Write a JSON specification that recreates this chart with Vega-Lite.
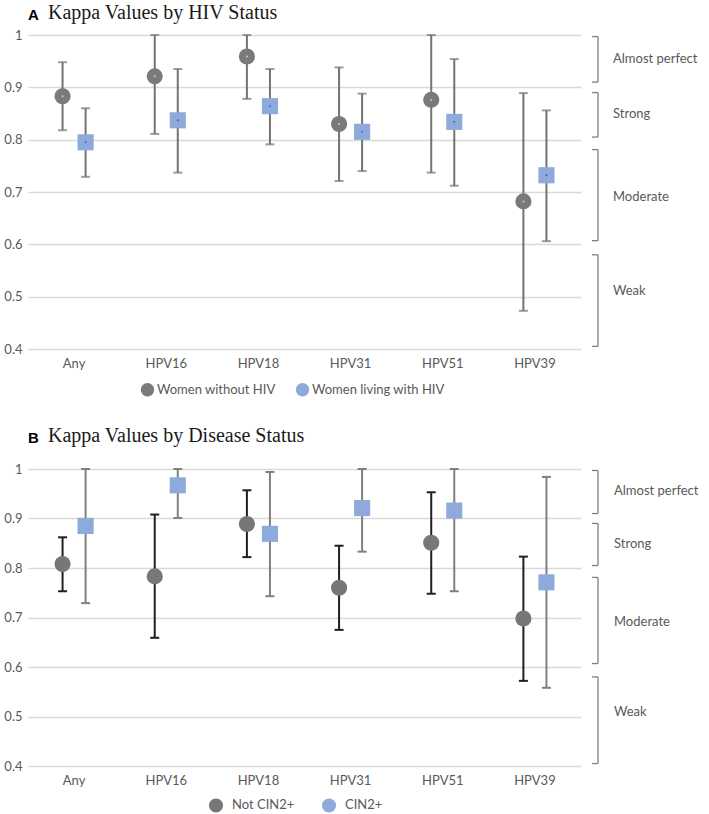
{
  "$schema": "https://vega.github.io/schema/vega-lite/v6.json",
  "background": "white",
  "padding": {"left": 3, "top": 3, "right": 0, "bottom": 0},
  "config": {
    "view": {"stroke": null},
    "font": "Lato",
    "axis": {"labelFont": "Lato", "labelColor": "#595959", "labelFontSize": 13, "domain": false, "ticks": false, "title": null},
    "legend": {"labelFont": "Lato", "labelColor": "#595959", "labelFontSize": 13, "title": null}
  },
  "resolve": {"scale": {"color": "independent", "shape": "independent", "xOffset": "independent"}, "legend": {"color": "independent", "shape": "independent"}},
  "datasets": {
    "a": [
      {"gene": "Any", "group": "Women without HIV", "k": 0.883, "lo": 0.818, "hi": 0.948},
      {"gene": "Any", "group": "Women living with HIV", "k": 0.795, "lo": 0.729, "hi": 0.860},
      {"gene": "HPV16", "group": "Women without HIV", "k": 0.921, "lo": 0.811, "hi": 1.0},
      {"gene": "HPV16", "group": "Women living with HIV", "k": 0.837, "lo": 0.737, "hi": 0.935},
      {"gene": "HPV18", "group": "Women without HIV", "k": 0.959, "lo": 0.878, "hi": 1.0},
      {"gene": "HPV18", "group": "Women living with HIV", "k": 0.864, "lo": 0.791, "hi": 0.935},
      {"gene": "HPV31", "group": "Women without HIV", "k": 0.830, "lo": 0.721, "hi": 0.938},
      {"gene": "HPV31", "group": "Women living with HIV", "k": 0.815, "lo": 0.740, "hi": 0.888},
      {"gene": "HPV51", "group": "Women without HIV", "k": 0.876, "lo": 0.737, "hi": 1.0},
      {"gene": "HPV51", "group": "Women living with HIV", "k": 0.834, "lo": 0.712, "hi": 0.954},
      {"gene": "HPV39", "group": "Women without HIV", "k": 0.682, "lo": 0.473, "hi": 0.889},
      {"gene": "HPV39", "group": "Women living with HIV", "k": 0.732, "lo": 0.606, "hi": 0.856}
    ],
    "b": [
      {"gene": "Any", "group": "Not CIN2+", "k": 0.808, "lo": 0.753, "hi": 0.862},
      {"gene": "Any", "group": "CIN2+", "k": 0.885, "lo": 0.729, "hi": 1.0},
      {"gene": "HPV16", "group": "Not CIN2+", "k": 0.783, "lo": 0.659, "hi": 0.908},
      {"gene": "HPV16", "group": "CIN2+", "k": 0.967, "lo": 0.901, "hi": 1.0},
      {"gene": "HPV18", "group": "Not CIN2+", "k": 0.889, "lo": 0.822, "hi": 0.957},
      {"gene": "HPV18", "group": "CIN2+", "k": 0.869, "lo": 0.743, "hi": 0.994},
      {"gene": "HPV31", "group": "Not CIN2+", "k": 0.760, "lo": 0.675, "hi": 0.845},
      {"gene": "HPV31", "group": "CIN2+", "k": 0.921, "lo": 0.833, "hi": 1.0},
      {"gene": "HPV51", "group": "Not CIN2+", "k": 0.851, "lo": 0.748, "hi": 0.953},
      {"gene": "HPV51", "group": "CIN2+", "k": 0.916, "lo": 0.753, "hi": 1.0},
      {"gene": "HPV39", "group": "Not CIN2+", "k": 0.698, "lo": 0.572, "hi": 0.823},
      {"gene": "HPV39", "group": "CIN2+", "k": 0.771, "lo": 0.558, "hi": 0.984}
    ],
    "zones": [
      {"zone": "Almost perfect", "lo": 0.91, "hi": 0.997, "mid": 0.955},
      {"zone": "Strong", "lo": 0.805, "hi": 0.89, "mid": 0.849},
      {"zone": "Moderate", "lo": 0.607, "hi": 0.781, "mid": 0.69},
      {"zone": "Weak", "lo": 0.405, "hi": 0.58, "mid": 0.51}
    ]
  },
  "vconcat": [
    {
      "hconcat": [
        {
          "width": 553,
          "height": 314,
          "data": {"name": "a"},
          "title": {
            "text": "A",
            "subtitle": "\u200b\u2003Kappa Values by HIV Status",
            "anchor": "start",
            "frame": "group",
            "font": "Liberation Sans",
            "fontWeight": "bold",
            "fontSize": 15,
            "color": "#000000",
            "subtitleFont": "Liberation Serif",
            "subtitleFontSize": 20,
            "subtitleColor": "#1a1a1a",
            "subtitlePadding": -20,
            "offset": 1
          },
          "encoding": {
            "x": {"field": "gene", "type": "nominal", "sort": ["Any", "HPV16", "HPV18", "HPV31", "HPV51", "HPV39"], "scale": {"paddingInner": 0, "paddingOuter": 0}, "axis": {"labelAngle": 0, "labelPadding": 8, "grid": false}},
            "xOffset": {"field": "group", "type": "nominal", "sort": ["Women without HIV", "Women living with HIV"], "scale": {"paddingInner": 0, "paddingOuter": 1.5}}
          },
          "layer": [
            {
              "mark": {"type": "rule", "color": "#737373", "strokeWidth": 2},
              "encoding": {
                "y": {"field": "lo", "type": "quantitative", "scale": {"domain": [0.4, 1], "nice": false}, "axis": {"values": [0.4, 0.5, 0.6, 0.7, 0.8, 0.9, 1], "format": "~g", "gridColor": "#d9d9d9", "gridWidth": 1.5, "labelPadding": 6}},
                "y2": {"field": "hi"}
              }
            },
            {
              "mark": {"type": "tick", "color": "#737373", "thickness": 2, "size": 9, "orient": "horizontal"},
              "encoding": {"y": {"field": "lo", "type": "quantitative"}}
            },
            {
              "mark": {"type": "tick", "color": "#737373", "thickness": 2, "size": 9, "orient": "horizontal"},
              "encoding": {"y": {"field": "hi", "type": "quantitative"}}
            },
            {
              "mark": {"type": "point", "filled": true, "opacity": 1, "size": 260},
              "encoding": {
                "y": {"field": "k", "type": "quantitative"},
                "color": {"field": "group", "type": "nominal", "sort": ["Women without HIV", "Women living with HIV"], "scale": {"range": ["#7a7a7a", "#8eaadb"]}, "legend": {"orient": "none", "legendX": 112, "legendY": 347, "direction": "horizontal", "columns": 2, "columnPadding": 19, "labelOffset": 2, "symbolSize": 180, "symbolOpacity": 1}},
                "shape": {"field": "group", "type": "nominal", "sort": ["Women without HIV", "Women living with HIV"], "scale": {"range": ["circle", "square"]}}
              }
            },
            {
              "mark": {"type": "point", "filled": true, "opacity": 1, "size": 4},
              "encoding": {
                "y": {"field": "k", "type": "quantitative"},
                "color": {"condition": {"test": "datum.group === 'Women without HIV'", "value": "#c8c8c8"}, "value": "#3b64c0"}
              }
            }
          ]
        },
        {
          "width": 124,
          "height": 314,
          "data": {"name": "zones"},
          "encoding": {
            "y": {"field": "lo", "type": "quantitative", "scale": {"domain": [0.4, 1], "nice": false}, "axis": null}
          },
          "layer": [
            {
              "mark": {"type": "rule", "color": "#808080", "strokeWidth": 1.3},
              "encoding": {
                "x": {"datum": 17, "type": "quantitative", "scale": {"domain": [0, 124], "nice": false, "zero": false}, "axis": null},
                "y2": {"field": "hi"}
              }
            },
            {
              "mark": {"type": "rule", "color": "#808080", "strokeWidth": 1.3},
              "encoding": {"x": {"datum": 11, "type": "quantitative"}, "x2": {"datum": 17}}
            },
            {
              "mark": {"type": "rule", "color": "#808080", "strokeWidth": 1.3},
              "encoding": {"x": {"datum": 11, "type": "quantitative"}, "x2": {"datum": 17}, "y": {"field": "hi", "type": "quantitative"}}
            },
            {
              "mark": {"type": "text", "align": "left", "baseline": "middle", "font": "Lato", "fontSize": 13, "color": "#595959"},
              "encoding": {"x": {"datum": 32, "type": "quantitative"}, "y": {"field": "mid", "type": "quantitative"}, "text": {"field": "zone"}}
            }
          ]
        }
      ],
      "spacing": 0
    },
    {
      "hconcat": [
        {
          "width": 553,
          "height": 297,
          "data": {"name": "b"},
          "title": {
            "text": "B",
            "subtitle": "\u200b\u2003Kappa Values by Disease Status",
            "anchor": "start",
            "frame": "group",
            "font": "Liberation Sans",
            "fontWeight": "bold",
            "fontSize": 15,
            "color": "#000000",
            "subtitleFont": "Liberation Serif",
            "subtitleFontSize": 20,
            "subtitleColor": "#1a1a1a",
            "subtitlePadding": -20,
            "offset": 12
          },
          "encoding": {
            "x": {"field": "gene", "type": "nominal", "sort": ["Any", "HPV16", "HPV18", "HPV31", "HPV51", "HPV39"], "scale": {"paddingInner": 0, "paddingOuter": 0}, "axis": {"labelAngle": 0, "labelPadding": 8, "grid": false}},
            "xOffset": {"field": "group", "type": "nominal", "sort": ["Not CIN2+", "CIN2+"], "scale": {"paddingInner": 0, "paddingOuter": 1.5}}
          },
          "layer": [
            {
              "mark": {"type": "rule", "strokeWidth": 2},
              "encoding": {
                "y": {"field": "lo", "type": "quantitative", "scale": {"domain": [0.4, 1], "nice": false}, "axis": {"values": [0.4, 0.5, 0.6, 0.7, 0.8, 0.9, 1], "format": "~g", "gridColor": "#d9d9d9", "gridWidth": 1.5, "labelPadding": 6}},
                "y2": {"field": "hi"},
                "color": {"condition": {"test": "datum.group === 'Not CIN2+'", "value": "#1f1f1f"}, "value": "#808080"}
              }
            },
            {
              "mark": {"type": "tick", "thickness": 2, "size": 9, "orient": "horizontal", "opacity": 1},
              "encoding": {"y": {"field": "lo", "type": "quantitative"}, "color": {"condition": {"test": "datum.group === 'Not CIN2+'", "value": "#1f1f1f"}, "value": "#808080"}}
            },
            {
              "mark": {"type": "tick", "thickness": 2, "size": 9, "orient": "horizontal", "opacity": 1},
              "encoding": {"y": {"field": "hi", "type": "quantitative"}, "color": {"condition": {"test": "datum.group === 'Not CIN2+'", "value": "#1f1f1f"}, "value": "#808080"}}
            },
            {
              "mark": {"type": "point", "filled": true, "opacity": 1, "size": 260},
              "encoding": {
                "y": {"field": "k", "type": "quantitative"},
                "color": {"field": "group", "type": "nominal", "sort": ["Not CIN2+", "CIN2+"], "scale": {"range": ["#777777", "#8eaadb"]}, "legend": {"orient": "none", "legendX": 180, "legendY": 328, "direction": "horizontal", "columns": 2, "columnPadding": 26, "labelOffset": 8, "symbolSize": 200, "symbolOpacity": 1}},
                "shape": {"field": "group", "type": "nominal", "sort": ["Not CIN2+", "CIN2+"], "scale": {"range": ["circle", "square"]}}
              }
            }
          ]
        },
        {
          "width": 124,
          "height": 297,
          "data": {"name": "zones"},
          "encoding": {
            "y": {"field": "lo", "type": "quantitative", "scale": {"domain": [0.4, 1], "nice": false}, "axis": null}
          },
          "layer": [
            {
              "mark": {"type": "rule", "color": "#808080", "strokeWidth": 1.3},
              "encoding": {
                "x": {"datum": 17, "type": "quantitative", "scale": {"domain": [0, 124], "nice": false, "zero": false}, "axis": null},
                "y2": {"field": "hi"}
              }
            },
            {
              "mark": {"type": "rule", "color": "#808080", "strokeWidth": 1.3},
              "encoding": {"x": {"datum": 11, "type": "quantitative"}, "x2": {"datum": 17}}
            },
            {
              "mark": {"type": "rule", "color": "#808080", "strokeWidth": 1.3},
              "encoding": {"x": {"datum": 11, "type": "quantitative"}, "x2": {"datum": 17}, "y": {"field": "hi", "type": "quantitative"}}
            },
            {
              "mark": {"type": "text", "align": "left", "baseline": "middle", "font": "Lato", "fontSize": 13, "color": "#595959"},
              "encoding": {"x": {"datum": 33, "type": "quantitative"}, "y": {"field": "mid", "type": "quantitative"}, "text": {"field": "zone"}}
            }
          ]
        }
      ],
      "spacing": 0
    }
  ],
  "spacing": 29
}
